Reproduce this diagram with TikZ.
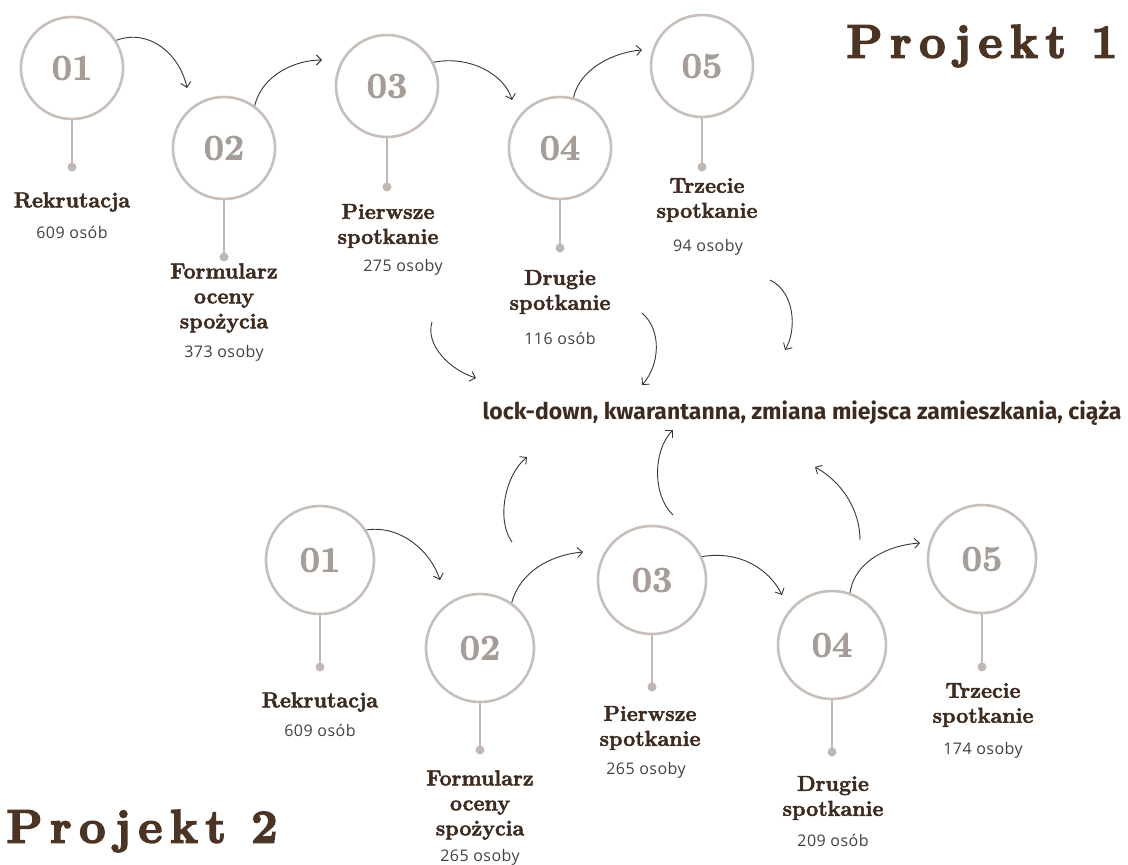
\documentclass[tikz,border=0pt]{standalone}
\usepackage{fontspec}
\setmainfont{Latin Modern Roman}
\newfontfamily\countfont[LetterSpace=3]{Open Sans}
\newfontfamily\notefont{Fira Sans}
\newfontfamily\headfont{Latin Modern Roman}[BoldFeatures={FakeBold=2.2}]
\newfontfamily\titlefont{Latin Modern Roman}[LetterSpace=16,BoldFeatures={FakeBold=3.5}]
\usetikzlibrary{arrows.meta}

\definecolor{ringcol}{HTML}{C9BFBA}
\definecolor{dotcol}{HTML}{C2B7B2}
\definecolor{numgray}{HTML}{A69D99}
\definecolor{headbrown}{HTML}{3E2B1F}
\definecolor{counttext}{HTML}{45403C}
\definecolor{arrowcol}{HTML}{3A3633}
\definecolor{titlebrown}{HTML}{4B3424}

\tikzset{
  ring/.style={circle, draw=ringcol, line width=2.6pt, minimum size=#1,
    inner sep=0pt, font=\headfont\bfseries\fontsize{36}{36}\selectfont, text=numgray},
  ring/.default=102pt,
  pin/.style={circle, fill=dotcol, inner sep=0pt, minimum size=9pt},
  stem/.style={draw=dotcol, line width=2.4pt},
  head/.style={font=\headfont\bfseries\fontsize{21.5}{25}\selectfont, text=headbrown,
    align=center, inner sep=0pt},
  count/.style={font=\countfont\fontsize{16}{18}\selectfont, text=counttext, inner sep=0pt},
  flow/.style={draw=arrowcol, line width=0.9pt, -{Straight Barb[length=5pt,width=10pt]}},
  title/.style={font=\titlefont\bfseries\fontsize{47}{47}\selectfont, text=titlebrown, inner sep=0pt},
}

\begin{document}
\begin{tikzpicture}[x=1pt,y=-1pt]
\fill[white] (0,0) rectangle (1128,865);
\useasboundingbox (0,0) rectangle (1128,865);

% ---------- Projekt 1 ----------
\node[title] (t1) at (982,46) {Projekt 1};

\node[ring] (a1) at (72,68)  {01};
\node[ring] (a2) at (224,148) {02};
\node[ring] (a3) at (387,86)  {03};
\node[ring] (a4) at (560,148) {04};
\node[ring] (a5) at (702,66)  {05};

\node[pin] (a1d) at (72,167) {};
\node[pin] (a2d) at (224,257) {};
\node[pin] (a3d) at (387,187) {};
\node[pin] (a4d) at (560,248) {};
\node[pin] (a5d) at (702,167) {};
\foreach \n in {a1,a2,a3,a4,a5} \draw[stem] (\n.south) -- (\n d.center);

\node[head]  (a1h) at (72,202)  {Rekrutacja};
\node[count] (a1c) at (72,232)  {609 osób};
\node[head]  (a2h) at (224,298) {Formularz\\oceny\\spożycia};
\node[count] (a2c) at (224,353) {373 osoby};
\node[head]  (a3h) at (388,226) {Pierwsze\\spotkanie};
\node[count] (a3c) at (403,267) {275 osoby};
\node[head]  (a4h) at (560,292) {Drugie\\spotkanie};
\node[count] (a4c) at (560,338) {116 osób};
\node[head]  (a5h) at (707,200) {Trzecie\\spotkanie};
\node[count] (a5c) at (708,247) {94 osoby};

\coordinate (e12) at (187,88);
\coordinate (e23) at (322,60);
\coordinate (e34) at (512,100);
\coordinate (e45) at (642,50);
\draw[flow] (a1.32) .. controls (150,28) and (180,55) .. (e12);
\draw[flow] (a2.54) .. controls (262,75) and (295,60) .. (e23);
\draw[flow] (a3.27) .. controls (470,55) and (505,75) .. (e34);
\draw[flow] (a4.75) .. controls (580,68) and (615,52) .. (e45);

% ---------- shared reasons ----------
\node[font=\notefont\bfseries\fontsize{23}{26}\selectfont, text=headbrown, inner sep=0pt]
  (why) at (802,413) {lock-down, kwarantanna, zmiana miejsca zamieszkania, ciąża};

\coordinate (d1s) at (432,322); \coordinate (d1e) at (476,378);
\coordinate (d2s) at (642,313); \coordinate (d2e) at (642,385);
\coordinate (d3s) at (770,280); \coordinate (d3e) at (785,350);
\draw[flow] (d1s) .. controls (425,345) and (450,370) .. (d1e);
\draw[flow] (d2s) .. controls (662,330) and (660,365) .. (d2e);
\draw[flow] (d3s) .. controls (795,292) and (797,330) .. (d3e);

\coordinate (u1s) at (512,542); \coordinate (u1e) at (527,457);
\coordinate (u2s) at (673,515); \coordinate (u2e) at (673,430);
\coordinate (u3s) at (860,540); \coordinate (u3e) at (815,467);
\draw[flow] (u1s) .. controls (496,520) and (505,475) .. (u1e);
\draw[flow] (u2s) .. controls (652,495) and (653,450) .. (u2e);
\draw[flow] (u3s) .. controls (860,510) and (842,482) .. (u3e);

% ---------- Projekt 2 ----------
\node[title] (t2) at (142,831) {Projekt 2};

\node[ring=108pt] (b1) at (320,560) {01};
\node[ring=108pt] (b2) at (480,648) {02};
\node[ring=108pt] (b3) at (652,580) {03};
\node[ring=108pt] (b4) at (832,645) {04};
\node[ring=108pt] (b5) at (982,559) {05};

\node[pin] (b1d) at (320,667) {};
\node[pin] (b2d) at (480,750) {};
\node[pin] (b3d) at (652,687) {};
\node[pin] (b4d) at (832,752) {};
\node[pin] (b5d) at (982,667) {};
\foreach \n in {b1,b2,b3,b4,b5} \draw[stem] (\n.south) -- (\n d.center);

\node[head]  (b1h) at (320,702) {Rekrutacja};
\node[count] (b1c) at (320,730) {609 osób};
\node[head]  (b2h) at (480,805) {Formularz\\oceny\\spożycia};
\node[count] (b2c) at (480,857) {265 osoby};
\node[head]  (b3h) at (650,728) {Pierwsze\\spotkanie};
\node[count] (b3c) at (646,770) {265 osoby};
\node[head]  (b4h) at (833,798) {Drugie\\spotkanie};
\node[count] (b4c) at (833,840) {209 osób};
\node[head]  (b5h) at (983,705) {Trzecie\\spotkanie};
\node[count] (b5c) at (983,750) {174 osoby};

\coordinate (f12) at (440,580);
\coordinate (f23) at (583,552);
\coordinate (f34) at (782,595);
\coordinate (f45) at (920,543);
\draw[flow] (b1.33) .. controls (400,525) and (430,550) .. (f12);
\draw[flow] (b2.55) .. controls (520,572) and (550,555) .. (f23);
\draw[flow] (b3.25) .. controls (740,550) and (770,570) .. (f34);
\draw[flow] (b4.71) .. controls (855,560) and (890,545) .. (f45);
\end{tikzpicture}
\end{document}
